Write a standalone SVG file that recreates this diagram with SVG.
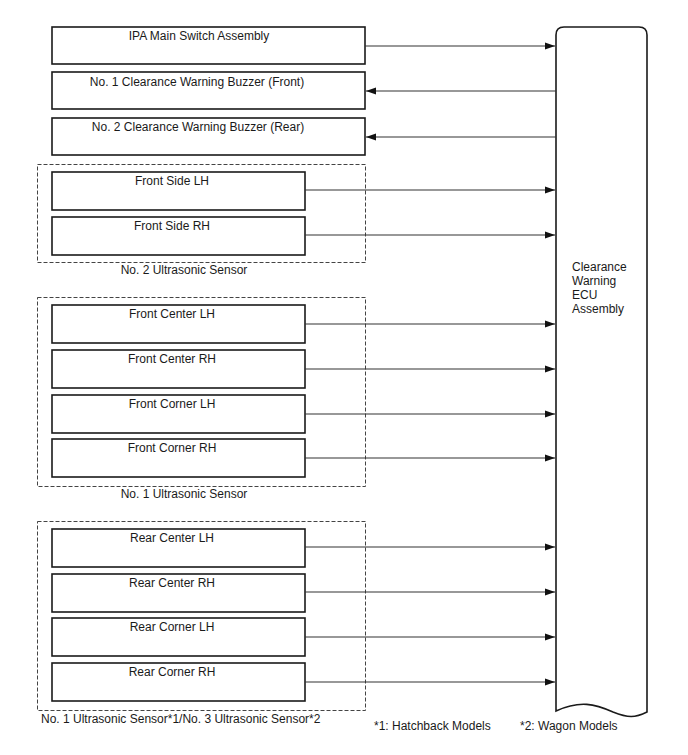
<svg xmlns="http://www.w3.org/2000/svg" width="688" height="755" viewBox="0 0 688 755">
<style>
text{font-family:"Liberation Sans",Arial,sans-serif;font-size:12px;fill:#1a1a1a}
.box{fill:#fff;stroke:#1a1a1a;stroke-width:1.6}
.grp{fill:none;stroke:#444;stroke-width:1;stroke-dasharray:4,2}
.c{stroke:#333;stroke-width:1.1;fill:none}
.ecu{fill:#fff;stroke:#1a1a1a;stroke-width:1.6}
</style>
<defs>
<marker id="ah" markerWidth="10" markerHeight="8" refX="10" refY="4" orient="auto" markerUnits="userSpaceOnUse">
<path d="M0,0.5 L10,4 L0,7.5 Z" fill="#111"/>
</marker>
</defs>
<rect width="688" height="755" fill="#fff"/>

<g id="ecu">
<path class="ecu" d="M556,711 L556,35 Q556,27 564,27 L639,27 Q647,27 647,35 L647,712 C635,718 628,718 613,712 C595,704 580,700 556,711 Z"/>
<text x="572" y="271">Clearance</text>
<text x="572" y="285">Warning</text>
<text x="572" y="299">ECU</text>
<text x="572" y="313">Assembly</text>
</g>

<g id="ipa"><rect class="box" x="52" y="27" width="313" height="37"/><text x="199" y="40" text-anchor="middle">IPA Main Switch Assembly</text></g>
<g id="buzzer1"><rect class="box" x="52" y="72" width="313" height="37"/><text x="197" y="86" text-anchor="middle">No. 1 Clearance Warning Buzzer (Front)</text></g>
<g id="buzzer2"><rect class="box" x="52" y="118" width="313" height="37"/><text x="198" y="131" text-anchor="middle">No. 2 Clearance Warning Buzzer (Rear)</text></g>

<g id="sensor2">
<rect class="grp" x="37.5" y="164.5" width="328" height="98"/>
<text x="184" y="274" text-anchor="middle">No. 2 Ultrasonic Sensor</text>
<g id="front-side-lh"><rect class="box" x="52" y="172" width="253" height="38"/><text x="172" y="185" text-anchor="middle">Front Side LH</text></g>
<g id="front-side-rh"><rect class="box" x="52" y="217" width="253" height="38"/><text x="172" y="230" text-anchor="middle">Front Side RH</text></g>
</g>

<g id="sensor1">
<rect class="grp" x="37.5" y="297.5" width="328" height="189"/>
<text x="184" y="498" text-anchor="middle">No. 1 Ultrasonic Sensor</text>
<g id="front-center-lh"><rect class="box" x="52" y="305" width="253" height="38"/><text x="172" y="318" text-anchor="middle">Front Center LH</text></g>
<g id="front-center-rh"><rect class="box" x="52" y="350" width="253" height="38"/><text x="172" y="363" text-anchor="middle">Front Center RH</text></g>
<g id="front-corner-lh"><rect class="box" x="52" y="395" width="253" height="38"/><text x="172" y="408" text-anchor="middle">Front Corner LH</text></g>
<g id="front-corner-rh"><rect class="box" x="52" y="439" width="253" height="38"/><text x="172" y="452" text-anchor="middle">Front Corner RH</text></g>
</g>

<g id="sensor-rear">
<rect class="grp" x="37.5" y="521.5" width="328" height="189"/>
<text x="41" y="723">No. 1 Ultrasonic Sensor*1/No. 3 Ultrasonic Sensor*2</text>
<g id="rear-center-lh"><rect class="box" x="52" y="529" width="253" height="38"/><text x="172" y="542" text-anchor="middle">Rear Center LH</text></g>
<g id="rear-center-rh"><rect class="box" x="52" y="574" width="253" height="38"/><text x="172" y="587" text-anchor="middle">Rear Center RH</text></g>
<g id="rear-corner-lh"><rect class="box" x="52" y="618" width="253" height="38"/><text x="172" y="631" text-anchor="middle">Rear Corner LH</text></g>
<g id="rear-corner-rh"><rect class="box" x="52" y="663" width="253" height="38"/><text x="172" y="676" text-anchor="middle">Rear Corner RH</text></g>
</g>

<g id="connectors">
<line class="c" x1="365" y1="46" x2="555" y2="46" marker-end="url(#ah)"/>
<line class="c" x1="556" y1="91" x2="366" y2="91" marker-end="url(#ah)"/>
<line class="c" x1="556" y1="137" x2="366" y2="137" marker-end="url(#ah)"/>
<line class="c" x1="305" y1="190" x2="555" y2="190" marker-end="url(#ah)"/>
<line class="c" x1="305" y1="235" x2="555" y2="235" marker-end="url(#ah)"/>
<line class="c" x1="305" y1="324" x2="555" y2="324" marker-end="url(#ah)"/>
<line class="c" x1="305" y1="369" x2="555" y2="369" marker-end="url(#ah)"/>
<line class="c" x1="305" y1="414" x2="555" y2="414" marker-end="url(#ah)"/>
<line class="c" x1="305" y1="458" x2="555" y2="458" marker-end="url(#ah)"/>
<line class="c" x1="305" y1="547" x2="555" y2="547" marker-end="url(#ah)"/>
<line class="c" x1="305" y1="592" x2="555" y2="592" marker-end="url(#ah)"/>
<line class="c" x1="305" y1="637" x2="555" y2="637" marker-end="url(#ah)"/>
<line class="c" x1="305" y1="682" x2="555" y2="682" marker-end="url(#ah)"/>
</g>

<g id="notes">
<text x="374" y="730">*1: Hatchback Models</text>
<text x="520" y="730">*2: Wagon Models</text>
</g>
</svg>
